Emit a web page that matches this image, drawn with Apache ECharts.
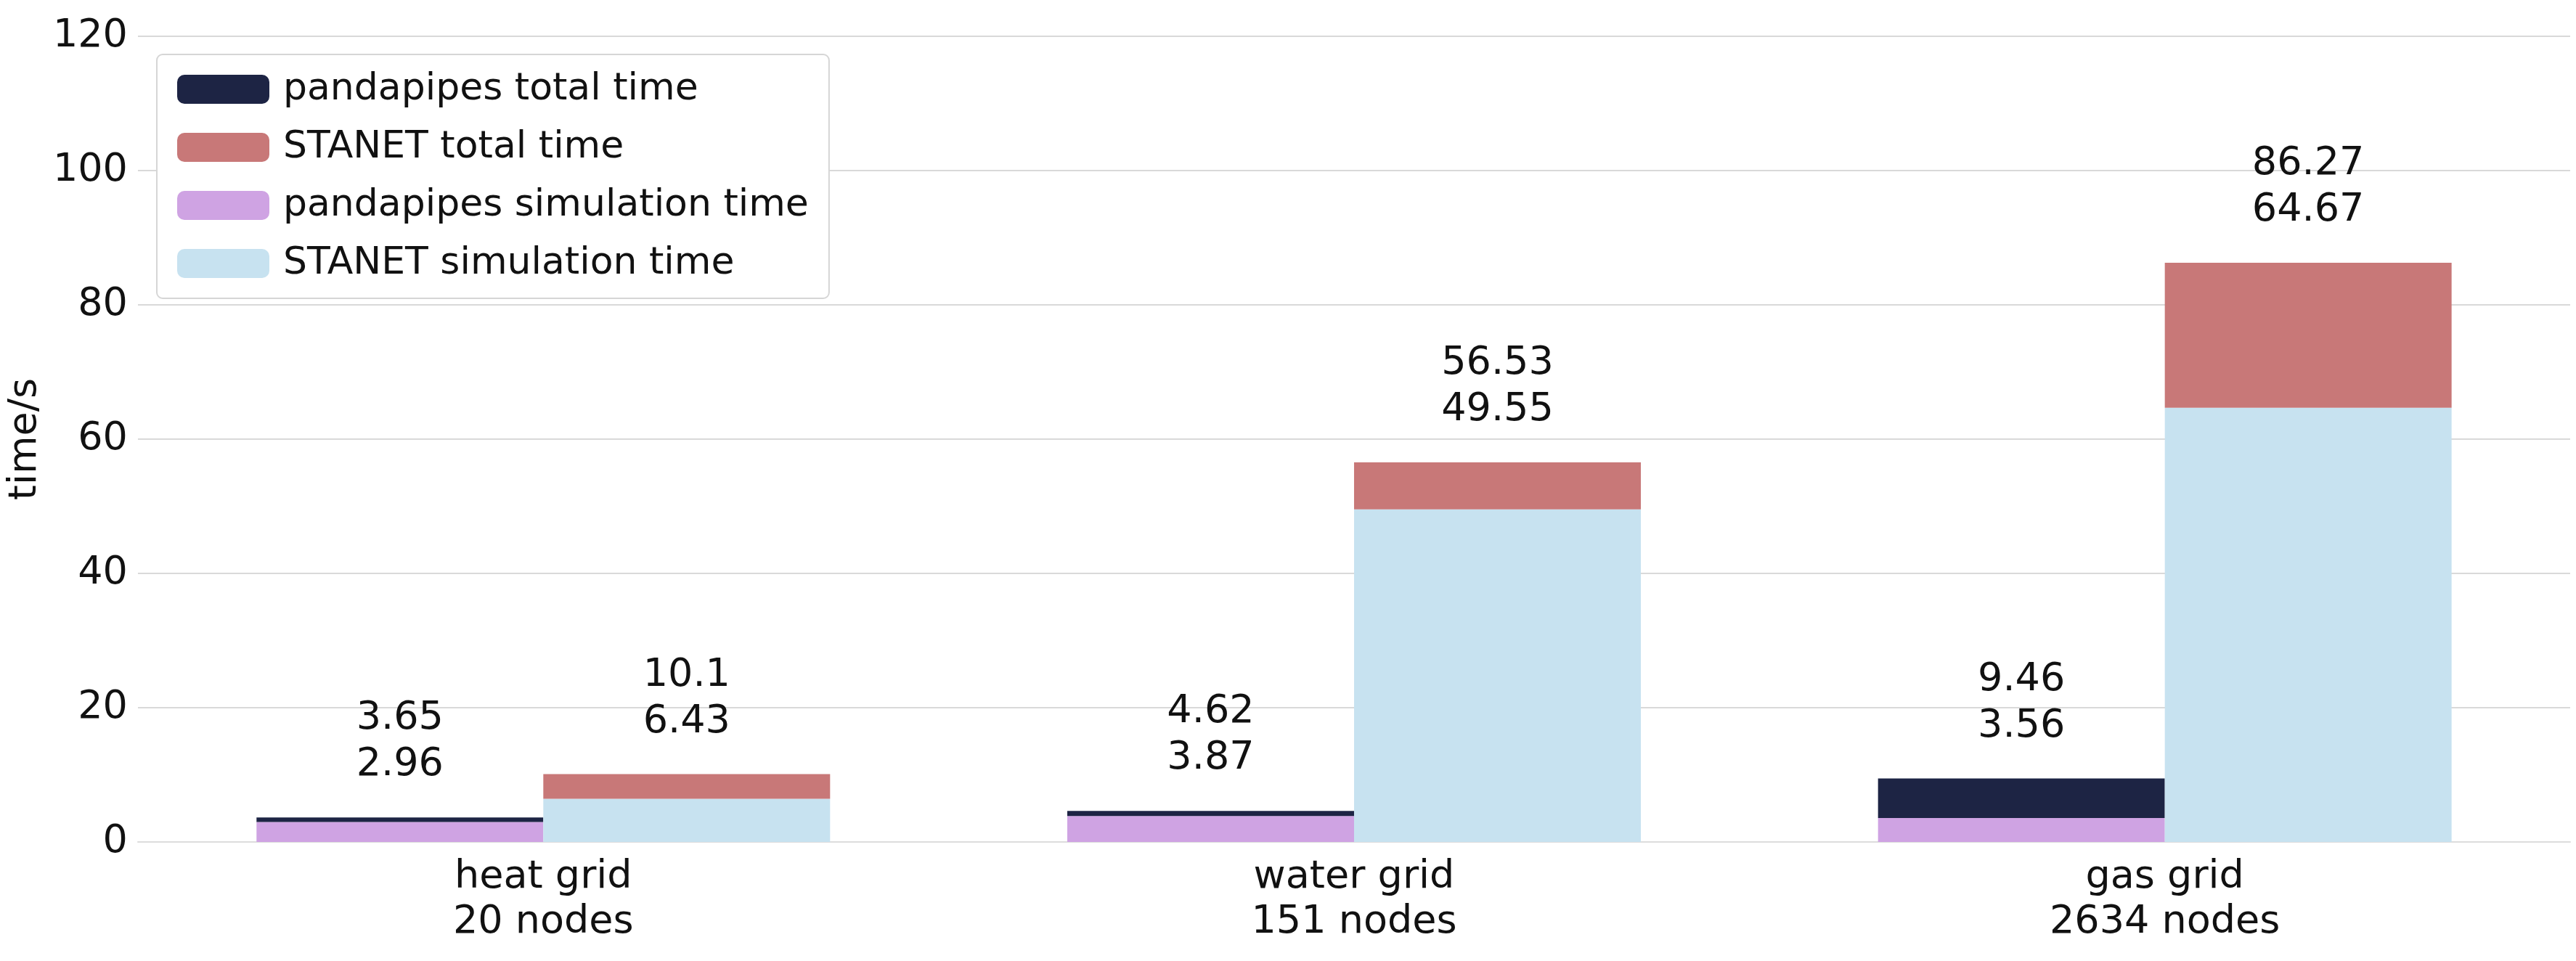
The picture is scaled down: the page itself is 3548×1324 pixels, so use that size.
<!DOCTYPE html>
<html>
<head>
<meta charset="utf-8">
<title>pandapipes vs STANET</title>
<script src="https://cdn.jsdelivr.net/npm/echarts@6/dist/echarts.min.js"></script>
<style>
html,body{margin:0;height:100%;background:#fff;}
#main{width:3548px;height:1324px;}
</style>
</head>
<body>
<div id="main"></div>
<script>
var categories = ['heat grid\n20 nodes', 'water grid\n151 nodes', 'gas grid\n2634 nodes'];
var ppTotal = [3.65, 4.62, 9.46];
var ppSim = [2.96, 3.87, 3.56];
var stTotal = [10.1, 56.53, 86.27];
var stSim = [6.43, 49.55, 64.67];

var font = 'DejaVu Sans';
function diff(a, b) { return a.map(function (v, i) { return +(v - b[i]).toFixed(2); }); }
function topLabel(tot, sim) {
    return {
        show: true, position: 'top', distance: 40,
        fontFamily: font, fontSize: 54, lineHeight: 64, color: '#111',
        formatter: function (p) { return tot[p.dataIndex] + '\n' + sim[p.dataIndex]; }
    };
}

var chart = echarts.init(document.getElementById('main'));
chart.setOption({
    animation: false,
    grid: {left: 182, right: 8, top: 50, bottom: 164},
    legend: {
        orient: 'vertical', left: 216, top: 75,
        data: ['pandapipes total time', 'STANET total time', 'pandapipes simulation time', 'STANET simulation time'],
        itemWidth: 127, itemHeight: 40, itemGap: 28,
        padding: [22, 28, 22, 28],
        borderColor: '#d6d6d6', borderWidth: 2, borderRadius: 8,
        backgroundColor: '#fff',
        textStyle: {fontFamily: font, fontSize: 52, color: '#111', padding: [0, 0, 0, 14]}
    },
    xAxis: {
        type: 'category', data: categories,
        axisLine: {lineStyle: {color: '#ddd', width: 2}},
        axisTick: {show: false},
        axisLabel: {fontFamily: font, fontSize: 54, color: '#111', lineHeight: 62, margin: 18}
    },
    yAxis: {
        type: 'value', min: 0, max: 120, interval: 20,
        name: 'time/s', nameLocation: 'middle', nameGap: 110,
        nameTextStyle: {fontFamily: font, fontSize: 54, color: '#111'},
        axisLine: {show: false}, axisTick: {show: false},
        axisLabel: {fontFamily: font, fontSize: 54, color: '#111', margin: 14},
        splitLine: {lineStyle: {color: '#d9d9d9', width: 2}}
    },
    series: [
        {name: 'pandapipes simulation time', type: 'bar', stack: 'pp', data: ppSim,
         itemStyle: {color: '#cfa3e3'}, barWidth: 395, barGap: '0%'},
        {name: 'pandapipes total time', type: 'bar', stack: 'pp', data: diff(ppTotal, ppSim),
         itemStyle: {color: '#1d2444'}, label: topLabel(ppTotal, ppSim)},
        {name: 'STANET simulation time', type: 'bar', stack: 'st', data: stSim,
         itemStyle: {color: '#c7e2f0'}, barWidth: 395},
        {name: 'STANET total time', type: 'bar', stack: 'st', data: diff(stTotal, stSim),
         itemStyle: {color: '#c87878'}, label: topLabel(stTotal, stSim)}
    ]
});
</script>
</body>
</html>
